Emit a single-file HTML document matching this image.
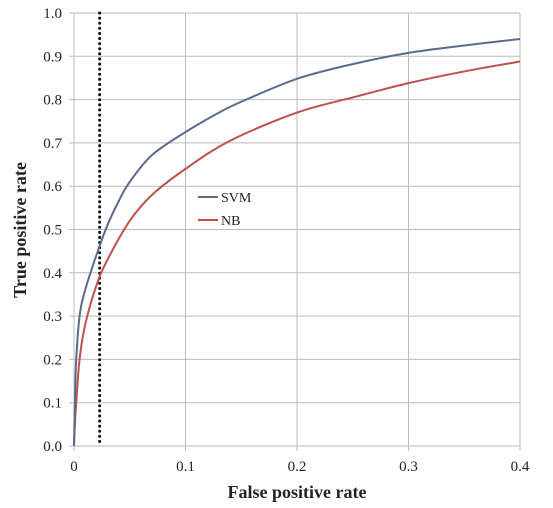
<!DOCTYPE html>
<html><head><meta charset="utf-8"><style>
body{margin:0;background:#fff;}
svg text{font-family:"Liberation Serif",serif;fill:#222;}
</style></head><body>
<svg width="553" height="503" id="c">
</svg>
<script>
const xTicks=[0,0.1,0.2,0.3,0.4];
const xTickLabels=["0","0.1","0.2","0.3","0.4"];
const yTicks=[0,0.1,0.2,0.3,0.4,0.5,0.6,0.7,0.8,0.9,1.0];
const svmFpr=[0,0.001,0.002,0.005,0.01,0.02,0.03,0.04,0.05,0.07,0.1,0.13,0.15,0.2,0.25,0.3,0.35,0.4];
const svmTpr=[0,0.12,0.2,0.3,0.36,0.44,0.51,0.565,0.61,0.672,0.725,0.77,0.795,0.848,0.882,0.908,0.925,0.94];
const nbFpr=[0,0.001,0.002,0.005,0.01,0.02,0.03,0.05,0.07,0.1,0.14,0.2,0.25,0.3,0.35,0.4];
const nbTpr=[0,0.06,0.1,0.2,0.28,0.37,0.43,0.52,0.58,0.64,0.705,0.77,0.805,0.838,0.865,0.888];
const cutoff=[0.023];
const X=v=>74+v*1115, Y=v=>446-v*433;
const s=document.getElementById('c'),NS='http://www.w3.org/2000/svg';
function mk(t,a,txt){const e=document.createElementNS(NS,t);for(const k in a)e.setAttribute(k,a[k]);if(txt!=null)e.textContent=txt;s.appendChild(e);return e;}
yTicks.forEach(v=>{
 const g=mk('line',{x1:X(0)-5,x2:X(0.4),y1:Y(v),y2:Y(v),stroke:'#bbb','stroke-width':1});
 
 
 const t=mk('text',{x:62,y:Y(v)+5,'text-anchor':'end','font-size':15},v.toFixed(1));
 
 
});
xTicks.forEach((v,i)=>{
 const g=mk('line',{x1:X(v),x2:X(v),y1:Y(1),y2:Y(0)+5,stroke:'#bbb','stroke-width':1});
 
 
 const t=mk('text',{x:X(v),y:471,'text-anchor':'middle','font-size':15},xTickLabels[i]);
 
 
});
const cl=mk('line',{x1:X(cutoff[0]),x2:X(cutoff[0]),y1:Y(1),y2:Y(0),stroke:'#111','stroke-width':3,'stroke-dasharray':'0.1 5','stroke-linecap':'round'});


function line(xs,ys,col,name){
 const P=xs.map((x,i)=>[X(x),Y(ys[i])]);
 let d='M'+P[0][0]+','+P[0][1];
 for(let i=0;i<P.length-1;i++){
  const p0=P[Math.max(0,i-1)],p1=P[i],p2=P[i+1],p3=P[Math.min(P.length-1,i+2)];
  const c1=[p1[0]+(p2[0]-p0[0])/6,p1[1]+(p2[1]-p0[1])/6];
  const c2=[p2[0]-(p3[0]-p1[0])/6,p2[1]-(p3[1]-p1[1])/6];
  d+=' C'+c1.join(',')+' '+c2.join(',')+' '+p2.join(',');
 }
 const p=mk('path',{d:d,fill:'none',stroke:col,'stroke-width':2,'stroke-linejoin':'round'});
 
 
}
line(nbFpr,nbTpr,'#c0504d','nb-curve');
line(svmFpr,svmTpr,'#5a6a8e','svm-curve');
[['SVM','#5a6a8e',197],['NB','#c0504d',220]].forEach(([n,c,y])=>{
 const l=mk('line',{x1:198,x2:218,y1:y,y2:y,stroke:c,'stroke-width':2});
 
 
 const t=mk('text',{x:221,y:y+5,'font-size':14},n);
 
 
});
const xt=mk('text',{x:297,y:498,'text-anchor':'middle','font-size':18,'font-weight':'bold'},'False positive rate');


const yt=mk('text',{x:0,y:0,'text-anchor':'middle','font-size':18,'font-weight':'bold',transform:'translate(26,230) rotate(-90)'},'True positive rate');


</script>
</body></html>
